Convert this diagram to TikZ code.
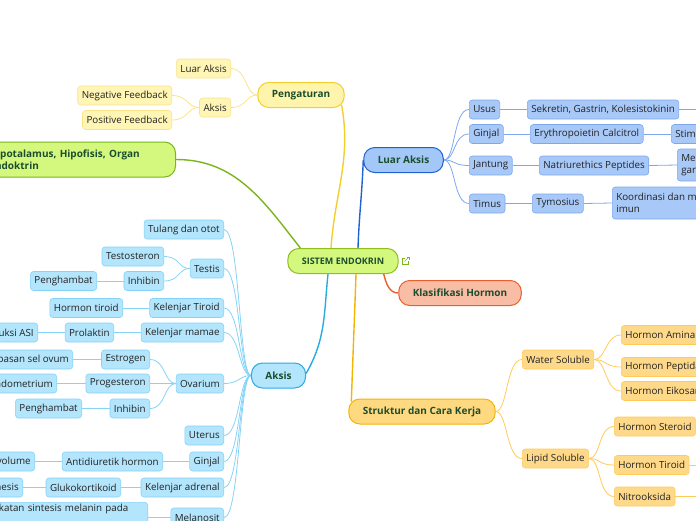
\documentclass[tikz,border=0pt]{standalone}
\usepackage{fontspec}
\setmainfont{Open Sans}
\usepackage{tikz}
\usetikzlibrary{calc,backgrounds}

\definecolor{titletext}{HTML}{1B4D2E}
\definecolor{leaftext}{HTML}{222222}
\definecolor{limefill}{HTML}{D4F77E}
\definecolor{limeline}{HTML}{8FBE1D}
\definecolor{greenline}{HTML}{7AB51D}
\definecolor{redfill}{HTML}{F9BDA6}
\definecolor{redline}{HTML}{E8602C}
\definecolor{yellowfill}{HTML}{FFF4AB}
\definecolor{yellowline}{HTML}{F2CF2C}
\definecolor{yellowleaf}{HTML}{FFF5B5}
\definecolor{yellowedge}{HTML}{FBE38A}
\definecolor{bluefill}{HTML}{A3C7F7}
\definecolor{blueline}{HTML}{1F62D1}
\definecolor{blueleaf}{HTML}{A8C9F8}
\definecolor{blueedge}{HTML}{7DA8EE}
\definecolor{cyanfill}{HTML}{B3E5FC}
\definecolor{cyanline}{HTML}{2AAAE2}
\definecolor{cyanedge}{HTML}{85D3F7}
\definecolor{orangefill}{HTML}{FFD97F}
\definecolor{orangeline}{HTML}{F5B400}
\definecolor{orangeleaf}{HTML}{FFD98A}
\definecolor{orangeedge}{HTML}{FFCB5A}

\tikzstyle{topicbox} = [draw, line width=1pt, rectangle, rounded corners=11pt, minimum height=25pt, inner xsep=14pt, inner ysep=2pt, text=titletext, font=\fontsize{10}{12}\selectfont\bfseries]
\tikzstyle{leafbox} = [draw, line width=0.6pt, rectangle, rounded corners=3pt, minimum height=19pt, inner xsep=4pt, inner ysep=2pt, text=leaftext, font=\fontsize{9.8}{11.5}\selectfont]
\tikzstyle{yellowbox} = [leafbox, fill=yellowleaf, draw=yellowedge]
\tikzstyle{bluebox} = [leafbox, fill=blueleaf, draw=blueedge]
\tikzstyle{cyanbox} = [leafbox, fill=cyanfill, draw=cyanedge]
\tikzstyle{orangebox} = [leafbox, fill=orangeleaf, draw=orangeedge]
\tikzstyle{mainlink} = [line width=1.4pt]
\tikzstyle{sublink} = [line width=0.8pt]
\tikzstyle{fanleft} = [out=180, in=0, out distance=12pt, in distance=16pt]
\tikzstyle{fanright} = [out=0, in=180, out distance=12pt, in distance=16pt]

\begin{document}
\begin{tikzpicture}[x=1pt, y=-1pt]
	\useasboundingbox (0,0) rectangle (696,520);
	\clip (0,0) rectangle (696,520);

	% central topic and main branches
	\node [topicbox, fill=limefill, draw=limeline, font=\fontsize{9}{11}\selectfont\bfseries] (sistem) at (343,261) {SISTEM ENDOKRIN};
	\node [topicbox, fill=yellowfill, draw=yellowline] (pengaturan) at (301,95) {Pengaturan};
	\node [topicbox, fill=bluefill, draw=blueline] (luaraksis) at (403.5,160) {Luar Aksis};
	\node [topicbox, fill=limefill, draw=greenline, anchor=east, minimum height=35pt, text width=172pt, align=left, font=\fontsize{10}{11.5}\selectfont\bfseries] (hipo) at (176,159.5) {Hipotalamus, Hipofisis, Organ\\Endoktrin};
	\node [topicbox, fill=cyanfill, draw=cyanline] (aksis) at (278.5,375.5) {Aksis};
	\node [topicbox, fill=redfill, draw=redline] (klasifikasi) at (460,293) {Klasifikasi Hormon};
	\node [topicbox, fill=orangefill, draw=orangeline] (struktur) at (422,411.5) {Struktur dan Cara Kerja};

	% link icon
	\draw [greenline, line width=0.6pt] (405,258) -- (402,258) -- (402,264) -- (408,264) -- (408,261);
	\draw [greenline, line width=0.6pt] (404.5,261.5) -- (409,257);
	\draw [greenline, line width=0.6pt] (406.5,257) -- (409,257) -- (409,259.5);

	% Pengaturan
	\node [yellowbox, anchor=east] (luar) at (231,68.5) {Luar Aksis};
	\node [yellowbox, anchor=east] (aksisatur) at (231,107.5) {Aksis};
	\node [yellowbox, anchor=east] (negative) at (172,95.5) {Negative Feedback};
	\node [yellowbox, anchor=east] (positive) at (172,120) {Positive Feedback};

	% Luar Aksis
	\node [bluebox, anchor=west] (usus) at (469,109.5) {Usus};
	\node [bluebox, anchor=west] (ginjalluar) at (469,134) {Ginjal};
	\node [bluebox, anchor=west] (jantung) at (469,165.5) {Jantung};
	\node [bluebox, anchor=west] (timus) at (469,203.5) {Timus};
	\node [bluebox, anchor=west] (sekretin) at (527,109.5) {Sekretin, Gastrin, Kolesistokinin};
	\node [bluebox, anchor=west] (erythro) at (530,134) {Erythropoietin Calcitrol};
	\node [bluebox, anchor=west] (natri) at (539,165.5) {Natriurethics Peptides};
	\node [bluebox, anchor=west] (tymosius) at (532,203.5) {Tymosius};
	\node [bluebox, anchor=west] (stimulasi) at (671,134) {Stimulasi eritrosit};
	\node [bluebox, anchor=west, align=left, minimum height=32pt] (garam) at (677,165) {Mengatur kadar\\garam};
	\node [bluebox, anchor=west, align=left, minimum height=32pt] (imun) at (612,203) {Koordinasi dan mengatur sistem\\imun};
	\coordinate (sekretinend) at (720,109.5);

	% Aksis
	\node [cyanbox, anchor=east] (tulang) at (224,229.5) {Tulang dan otot};
	\node [cyanbox, anchor=east] (testis) at (224,268.5) {Testis};
	\node [cyanbox, anchor=east] (testosteron) at (164,256.5) {Testosteron};
	\node [cyanbox, anchor=east] (inhibintestis) at (164,281) {Inhibin};
	\node [cyanbox, anchor=east] (hambattestis) at (97,281) {Penghambat};
	\node [cyanbox, anchor=east] (tiroid) at (224,308) {Kelenjar Tiroid};
	\node [cyanbox, anchor=east] (hormontiroid) at (123,308) {Hormon tiroid};
	\node [cyanbox, anchor=east] (mamae) at (224,332.5) {Kelenjar mamae};
	\node [cyanbox, anchor=east] (prolaktin) at (114,332.5) {Prolaktin};
	\node [cyanbox, anchor=east] (asi) at (38,332.5) {Produksi ASI};
	\node [cyanbox, anchor=east] (ovarium) at (224,383.5) {Ovarium};
	\node [cyanbox, anchor=east] (estrogen) at (150,359.5) {Estrogen};
	\node [cyanbox, anchor=east] (ovum) at (73,359.5) {Pelepasan sel ovum};
	\node [cyanbox, anchor=east] (progesteron) at (150,383.5) {Progesteron};
	\node [cyanbox, anchor=east] (endometrium) at (57,383.5) {Penebalan endometrium};
	\node [cyanbox, anchor=east] (inhibinovarium) at (150,408.5) {Inhibin};
	\node [cyanbox, anchor=east] (hambatovarium) at (82,408.5) {Penghambat};
	\node [cyanbox, anchor=east] (uterus) at (224,435.5) {Uterus};
	\node [cyanbox, anchor=east] (ginjal) at (224,461.5) {Ginjal};
	\node [cyanbox, anchor=east] (antidiuretik) at (163,461.5) {Antidiuretik hormon};
	\node [cyanbox, anchor=east] (volume) at (35,461.5) {Mengatur volume};
	\node [cyanbox, anchor=east] (adrenal) at (224,487.5) {Kelenjar adrenal};
	\node [cyanbox, anchor=east] (glukokortikoid) at (121,487.5) {Glukokortikoid};
	\node [cyanbox, anchor=east] (glukoneogenesis) at (23,487.5) {Glukoneogenesis};
	\node [cyanbox, anchor=east] (melanosit) at (224,517.5) {Melanosit};
	\node [cyanbox, anchor=north east, text width=176pt, align=left] (melanin) at (148,502) {Peningkatan sintesis melanin pada\\kulit};

	% Struktur dan Cara Kerja
	\node [orangebox, anchor=west] (water) at (522,359.5) {Water Soluble};
	\node [orangebox, anchor=west] (lipid) at (522,458.5) {Lipid Soluble};
	\node [orangebox, anchor=west] (amina) at (621,335) {Hormon Amina};
	\node [orangebox, anchor=west] (peptida) at (621,367) {Hormon Peptida};
	\node [orangebox, anchor=west] (eikosanoid) at (621,391) {Hormon Eikosanoid};
	\node [orangebox, anchor=west] (steroid) at (614,426.5) {Hormon Steroid};
	\node [orangebox, anchor=west] (tiroidlipid) at (614,465) {Hormon Tiroid};
	\node [orangebox, anchor=west] (nitrooksida) at (614,496.5) {Nitrooksida};
	\coordinate (tiroidend) at (720,465);
	\coordinate (nitroend) at (720,496.5);

	\begin{scope}[on background layer]
		\draw [mainlink, yellowline] ($(sistem.north)+(-12,0)$) to[out=86, in=-80] ($(pengaturan.south east)+(-3,-3)$);
		\draw [mainlink, blueline] ($(sistem.north)+(15,0)$) to[out=88, in=-92] (luaraksis.west);
		\draw [mainlink, greenline] ($(sistem.north west)+(13,0)$) to[out=128, in=0] (hipo.east);
		\draw [mainlink, cyanline] ($(sistem.south)+(-15,0)$) to[out=-96, in=60] ($(aksis.east)+(0,-2)$);
		\draw [mainlink, orangeline] ($(sistem.south)+(13,0)$) to[out=-92, in=88] ($(struktur.north west)+(3,3)$);
		\draw [mainlink, redline] ($(sistem.south east)+(-15,0)$) to[out=-75, in=180] (klasifikasi.west);

		\draw [sublink, yellowedge] (pengaturan.west) to[fanleft] (luar.east);
		\draw [sublink, yellowedge] (pengaturan.west) to[fanleft] (aksisatur.east);
		\draw [sublink, yellowedge] (aksisatur.west) to[fanleft] (negative.east);
		\draw [sublink, yellowedge] (aksisatur.west) to[fanleft] (positive.east);

		\foreach \child in {usus, ginjalluar, jantung, timus}
			\draw [sublink, blueedge] (luaraksis.east) to[fanright] (\child.west);
		\draw [sublink, blueedge] (usus.east) -- (sekretin.west);
		\draw [sublink, blueedge] (sekretin.east) -- (sekretinend);
		\draw [sublink, blueedge] (ginjalluar.east) -- (erythro.west);
		\draw [sublink, blueedge] (erythro.east) -- (stimulasi.west);
		\draw [sublink, blueedge] (jantung.east) -- (natri.west);
		\draw [sublink, blueedge] (natri.east) -- (garam.west);
		\draw [sublink, blueedge] (timus.east) -- (tymosius.west);
		\draw [sublink, blueedge] (tymosius.east) -- (imun.west);

		\foreach \child in {tulang, testis, tiroid, mamae, ovarium, uterus, ginjal, adrenal, melanosit}
			\draw [sublink, cyanedge] (aksis.west) to[fanleft] (\child.east);
		\draw [sublink, cyanedge] (testis.west) to[fanleft] (testosteron.east);
		\draw [sublink, cyanedge] (testis.west) to[fanleft] (inhibintestis.east);
		\draw [sublink, cyanedge] (inhibintestis.west) -- (hambattestis.east);
		\draw [sublink, cyanedge] (tiroid.west) -- (hormontiroid.east);
		\draw [sublink, cyanedge] (mamae.west) -- (prolaktin.east);
		\draw [sublink, cyanedge] (prolaktin.west) -- (asi.east);
		\draw [sublink, cyanedge] (ovarium.west) to[fanleft] (estrogen.east);
		\draw [sublink, cyanedge] (ovarium.west) to[fanleft] (progesteron.east);
		\draw [sublink, cyanedge] (ovarium.west) to[fanleft] (inhibinovarium.east);
		\draw [sublink, cyanedge] (estrogen.west) -- (ovum.east);
		\draw [sublink, cyanedge] (progesteron.west) -- (endometrium.east);
		\draw [sublink, cyanedge] (inhibinovarium.west) -- (hambatovarium.east);
		\draw [sublink, cyanedge] (ginjal.west) -- (antidiuretik.east);
		\draw [sublink, cyanedge] (antidiuretik.west) -- (volume.east);
		\draw [sublink, cyanedge] (adrenal.west) -- (glukokortikoid.east);
		\draw [sublink, cyanedge] (glukokortikoid.west) -- (glukoneogenesis.east);
		\draw [sublink, cyanedge] (melanosit.west) -- (melanosit.west -| melanin.east);

		\draw [sublink, orangeedge] (struktur.east) to[fanright] (water.west);
		\draw [sublink, orangeedge] (struktur.east) to[fanright] (lipid.west);
		\foreach \child in {amina, peptida, eikosanoid}
			\draw [sublink, orangeedge] (water.east) to[fanright] (\child.west);
		\foreach \child in {steroid, tiroidlipid, nitrooksida}
			\draw [sublink, orangeedge] (lipid.east) to[fanright] (\child.west);
		\draw [sublink, orangeedge] (tiroidlipid.east) -- (tiroidend);
		\draw [sublink, orangeedge] (nitrooksida.east) -- (nitroend);
	\end{scope}
\end{tikzpicture}
\end{document}
